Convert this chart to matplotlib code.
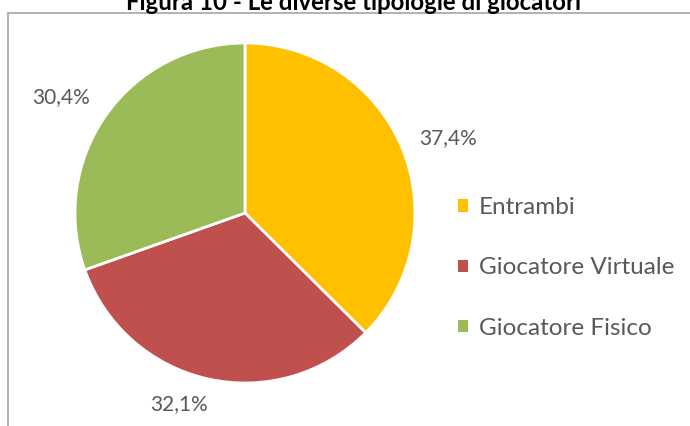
import numpy as np
import matplotlib
matplotlib.use("Agg")
import matplotlib.pyplot as plt
from matplotlib.patches import Patch, Rectangle

categories = ["Entrambi", "Giocatore Virtuale", "Giocatore Fisico"]
values = [37.4, 32.1, 30.4]
colors = ["#FFC000", "#C0504D", "#9BBB59"]
title = "Figura 10 - Le diverse tipologie di giocatori"

plt.rcParams['font.family'] = ['Lato', 'DejaVu Sans']
W, H = 690, 426
fig = plt.figure(figsize=(W/100, H/100), dpi=100)

# border
fig.patches.append(Rectangle((8/W, -0.1), 1.0, (H-13)/H + 0.1, transform=fig.transFigure,
                             fill=False, edgecolor="#A6A6A6", linewidth=1.2))

cx, cy, r = 245, 213, 170
ax = fig.add_axes([(cx-r)/W, (H-cy-r)/H, 2*r/W, 2*r/H])
labels = [f"{v:.1f}%".replace('.', ',') for v in values]
wedges, _ = ax.pie(values, colors=colors, startangle=90, counterclock=False,
                   wedgeprops=dict(edgecolor="white", linewidth=2))
# best-fit style label placement (distance / angle nudge per label)
label_dist = [1.27, 1.19, 1.28]
label_shift = [-2.4, -6.3, 3.0]
for w, lab, d, s in zip(wedges, labels, label_dist, label_shift):
    ang = np.deg2rad((w.theta1 + w.theta2) / 2 + s)
    ax.text(d * np.cos(ang), d * np.sin(ang), lab, ha="center", va="center",
            fontsize=15, color="#595959", clip_on=False)
ax.set_aspect("equal")
ax.set_xlim(-1, 1)
ax.set_ylim(-1, 1)

fig.text(353/W, 1 - 10/H, title, ha="center", va="baseline", fontsize=17.3,
         fontweight="bold", color="black")

handles = [Patch(facecolor=c, edgecolor="none") for c in colors]
leg = fig.legend(handles, categories, loc="center left",
                 bbox_to_anchor=(436/W, 1 - 268/H), frameon=False,
                 fontsize=17.5, labelcolor="#595959", handlelength=0.42,
                 handleheight=0.42, handletextpad=0.45, labelspacing=1.62)

fig.savefig("out.png", dpi=100)
